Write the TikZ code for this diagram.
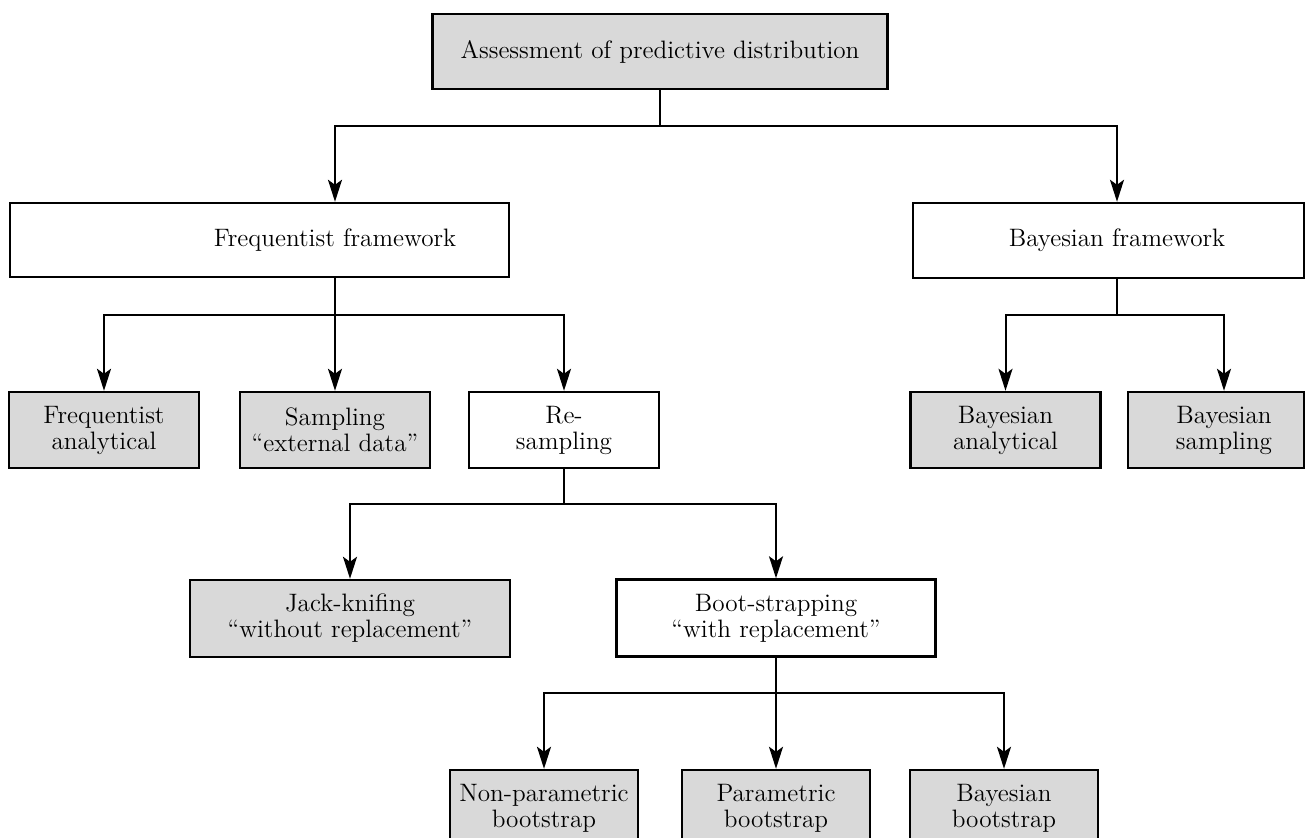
\documentclass[tikz,border=0pt]{standalone}
\usetikzlibrary{arrows.meta}
\begin{document}
\begin{tikzpicture}[x=0.5pt, y=-0.5pt,
    font=\fontsize{12.6}{13}\selectfont,
    box/.style={draw, line width=1.2pt, fill=gray!30, align=center, inner sep=0pt, minimum width=95pt, minimum height=38pt},
    openbox/.style={box, fill=white},
    link/.style={line width=1pt},
    arr/.style={link, -{Stealth[length=11pt, width=7pt, inset=2.5pt]}}]
  \clip (0,0) rectangle (1307,838);
  % top
  \node[box, minimum width=227.5pt, minimum height=37.5pt] (top) at (660,51.5) {Assessment of predictive distribution};
  % frameworks
  \node[openbox, minimum width=249.5pt, minimum height=37pt,
        label={[name=freqtxt, xshift=37.75pt]center:Frequentist framework}] (freq) at (259.5,240) {};
  \node[openbox, minimum width=195.5pt, minimum height=37.5pt,
        label={[name=bayestxt, xshift=4.25pt]center:Bayesian framework}] (bayes) at (1108.5,240.5) {};
  % methods
  \node[box] (fan) at (104,430) {Frequentist\\analytical};
  \node[box] (samp) at (335,430) {Sampling\\“external data”};
  \node[openbox] (resamp) at (564,430) {Re-\\sampling};
  \node[box] (ban) at (1005.5,430) {Bayesian\\analytical};
  \node[box, minimum width=88pt,
        label={[name=bsamptxt, xshift=4pt, align=center]center:Bayesian\\sampling}] (bsamp) at (1216,430) {};
  % resampling
  \node[box, minimum width=160pt, minimum height=38.5pt] (jack) at (350,618.5) {Jack-knifing\\“without replacement”};
  \node[openbox, minimum width=159.5pt, minimum height=38.5pt] (boot) at (776,618) {Boot-strapping\\“with replacement”};
  % bootstrap
  \node[box, minimum width=94pt] (npb) at (544,808) {Non-parametric\\bootstrap};
  \node[box, minimum width=94pt] (pb) at (776,808) {Parametric\\bootstrap};
  \node[box, minimum width=94pt] (bb) at (1004,808) {Bayesian\\bootstrap};
  % junctions
  \coordinate (j1) at (660,126);
  \coordinate (j2) at (335,315);
  \coordinate (j3) at (1117,315);
  \coordinate (j4) at (564,504);
  \coordinate (j5) at (776,693);
  % connectors
  \draw[link] (top) -- (j1);
  \draw[arr] (j1) -| (freqtxt |- freq.north);
  \draw[arr] (j1) -| (bayestxt |- bayes.north);
  \draw[link] (freqtxt |- freq.south) -- (j2);
  \foreach \n in {fan, samp, resamp}
    \draw[arr] (j2) -| (\n.north);
  \draw[link] (bayestxt |- bayes.south) -- (j3);
  \draw[arr] (j3) -| (ban.north);
  \draw[arr] (j3) -| (bsamptxt |- bsamp.north);
  \draw[link] (resamp) -- (j4);
  \foreach \n in {jack, boot}
    \draw[arr] (j4) -| (\n.north);
  \draw[link] (boot) -- (j5);
  \foreach \n in {npb, pb, bb}
    \draw[arr] (j5) -| (\n.north);
\end{tikzpicture}
\end{document}
